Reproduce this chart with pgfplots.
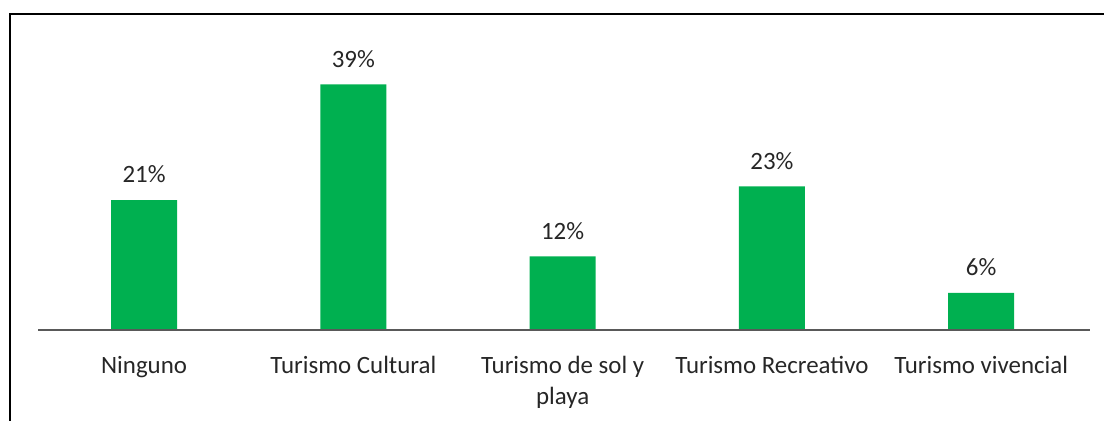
\documentclass[border=0pt]{standalone}
\usepackage{pgfplots}
\pgfplotsset{compat=1.18}
\usepackage{fontspec}
\setmainfont{Carlito}
\usetikzlibrary{calc}
\definecolor{barg}{HTML}{00B050}
\definecolor{txt}{HTML}{262626}
\definecolor{axl}{HTML}{595959}
\begin{document}
\begin{tikzpicture}
\begin{axis}[
  name=ax,
  at={(0,0)}, anchor=south west,
  scale only axis,
  width=526bp, height=144.9bp,
  xmin=-0.507, xmax=4.52,
  ymin=0, ymax=46,
  enlargelimits=false,
  axis y line=none,
  axis x line*=bottom,
  x axis line style={draw=none},
  xtick=data,
  xticklabels={Ninguno, Turismo Cultural, {Turismo de sol y\\playa}, Turismo Recreativo, Turismo vivencial},
  xtick style={draw=none},
  xticklabel style={font=\fontsize{12.5}{15.5}\selectfont, text=txt, align=center, yshift=-5.5bp},
  ybar, bar width=33bp,
  /pgf/number format/assume math mode=true,
  /pgf/number format/fixed, /pgf/number format/precision=0,
  nodes near coords={\pgfmathprintnumber{\pgfplotspointmeta}\%},
  nodes near coords style={font=\fontsize{12.5}{14}\selectfont, text=txt, yshift=5bp},
]
\addplot[fill=barg, draw=none] coordinates {(0,20.6) (1,39) (2,11.7) (3,22.8) (4,5.9)};
\end{axis}
\draw[axl, line width=0.7bp] (ax.south west) -- (ax.south east);
\draw[black, line width=1.1bp] ($(ax.south west)+(-14bp,-46bp)$) -- ($(ax.south west)+(-14bp,158bp)$) -- ($(ax.south west)+(534bp,158bp)$);
\pgfresetboundingbox
\path ($(ax.south west)+(-19bp,-45.5bp)$) rectangle ($(ax.south west)+(533bp,165bp)$);
\end{tikzpicture}
\end{document}
